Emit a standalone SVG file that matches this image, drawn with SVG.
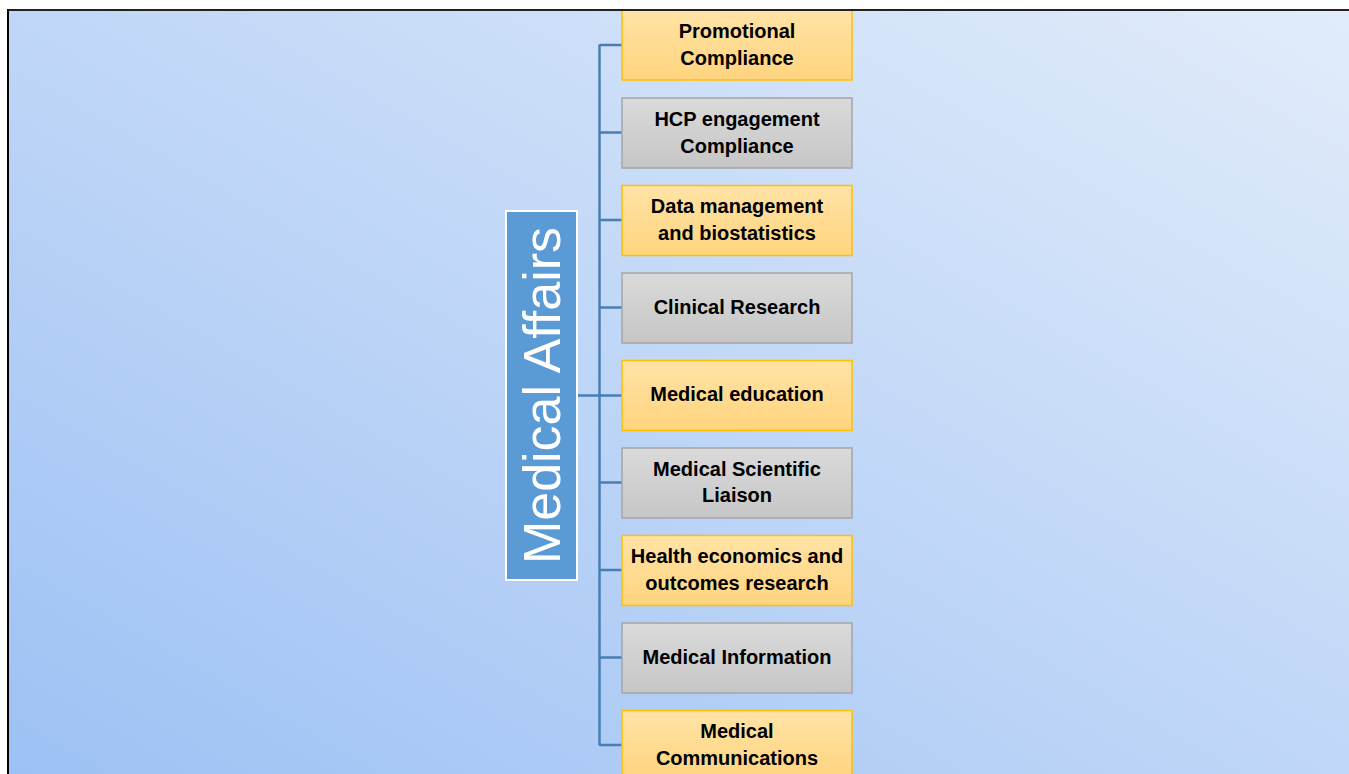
<svg xmlns="http://www.w3.org/2000/svg" width="1349" height="774" viewBox="0 0 1349 774">
  <defs>
    <linearGradient id="bg" x1="0" y1="774" x2="668" y2="-390" gradientUnits="userSpaceOnUse">
      <stop offset="0" stop-color="#9dc1f4"/>
      <stop offset="1" stop-color="#e2ecfa"/>
    </linearGradient>
    <linearGradient id="gold" x1="0" y1="0" x2="0" y2="1">
      <stop offset="0" stop-color="#ffe3a6"/>
      <stop offset="1" stop-color="#ffd47e"/>
    </linearGradient>
    <linearGradient id="grey" x1="0" y1="0" x2="0" y2="1">
      <stop offset="0" stop-color="#dadada"/>
      <stop offset="1" stop-color="#c6c6c6"/>
    </linearGradient>
    <clipPath id="frame">
      <rect x="9" y="11" width="1340" height="763"/>
    </clipPath>
  </defs>
  <style>
    .gold rect { fill: url(#gold); stroke: #ffc000; stroke-width: 1.5; }
    .grey rect { fill: url(#grey); stroke: #a5a5a5; stroke-width: 1.5; }
    .lbl { font-family: "Liberation Sans", Arial, sans-serif; font-weight: bold; font-size: 20px; fill: #000; text-anchor: middle; }
    .conn { stroke: #4a7eb3; stroke-width: 2.5; fill: none; }
  </style>

  <!-- page background and frame -->
  <rect x="0" y="0" width="1349" height="774" fill="#ffffff"/>
  <rect x="9" y="11" width="1340" height="763" fill="url(#bg)"/>
  <line x1="8" y1="10" x2="1349" y2="10" stroke="#222" stroke-width="2"/>
  <line x1="8" y1="9" x2="8" y2="774" stroke="#000" stroke-width="2"/>

  <g clip-path="url(#frame)">
    <!-- connectors -->
    <g id="connectors">
      <line class="conn" x1="577" y1="395.5" x2="599.5" y2="395.5"/>
      <line class="conn" x1="599.5" y1="44.5" x2="599.5" y2="745.5"/>
      <line class="conn" x1="599.5" y1="45" x2="622" y2="45"/>
      <line class="conn" x1="599.5" y1="132.5" x2="622" y2="132.5"/>
      <line class="conn" x1="599.5" y1="220" x2="622" y2="220"/>
      <line class="conn" x1="599.5" y1="307.5" x2="622" y2="307.5"/>
      <line class="conn" x1="599.5" y1="395.5" x2="622" y2="395.5"/>
      <line class="conn" x1="599.5" y1="482.5" x2="622" y2="482.5"/>
      <line class="conn" x1="599.5" y1="570" x2="622" y2="570"/>
      <line class="conn" x1="599.5" y1="657.5" x2="622" y2="657.5"/>
      <line class="conn" x1="599.5" y1="745" x2="622" y2="745"/>
    </g>

    <!-- root -->
    <g id="medical-affairs">
      <rect x="506" y="211" width="71" height="369" fill="#5b9bd5" stroke="#ffffff" stroke-width="2"/>
      <text transform="translate(560 395.5) rotate(-90)" text-anchor="middle" font-family="Liberation Sans, Arial, sans-serif" font-size="52" fill="#ffffff">Medical Affairs</text>
    </g>

    <!-- branches -->
    <g id="promotional-compliance" class="gold">
      <rect x="622" y="10" width="230" height="70"/>
      <text class="lbl" x="737" y="38">Promotional</text>
      <text class="lbl" x="737" y="65">Compliance</text>
    </g>
    <g id="hcp-engagement-compliance" class="grey">
      <rect x="622" y="98" width="230" height="70"/>
      <text class="lbl" x="737" y="126">HCP engagement</text>
      <text class="lbl" x="737" y="153">Compliance</text>
    </g>
    <g id="data-management" class="gold">
      <rect x="622" y="185.5" width="230" height="70"/>
      <text class="lbl" x="737" y="213">Data management</text>
      <text class="lbl" x="737" y="240">and biostatistics</text>
    </g>
    <g id="clinical-research" class="grey">
      <rect x="622" y="273" width="230" height="70"/>
      <text class="lbl" x="737" y="314">Clinical Research</text>
    </g>
    <g id="medical-education" class="gold">
      <rect x="622" y="360.5" width="230" height="70"/>
      <text class="lbl" x="737" y="401">Medical education</text>
    </g>
    <g id="medical-scientific-liaison" class="grey">
      <rect x="622" y="448" width="230" height="70"/>
      <text class="lbl" x="737" y="476">Medical Scientific</text>
      <text class="lbl" x="737" y="502">Liaison</text>
    </g>
    <g id="heor" class="gold">
      <rect x="622" y="535.5" width="230" height="70"/>
      <text class="lbl" x="737" y="563">Health economics and</text>
      <text class="lbl" x="737" y="590">outcomes research</text>
    </g>
    <g id="medical-information" class="grey">
      <rect x="622" y="623" width="230" height="70"/>
      <text class="lbl" x="737" y="664">Medical Information</text>
    </g>
    <g id="medical-communications" class="gold">
      <rect x="622" y="710.5" width="230" height="70"/>
      <text class="lbl" x="737" y="738">Medical</text>
      <text class="lbl" x="737" y="765">Communications</text>
    </g>
  </g>
</svg>
